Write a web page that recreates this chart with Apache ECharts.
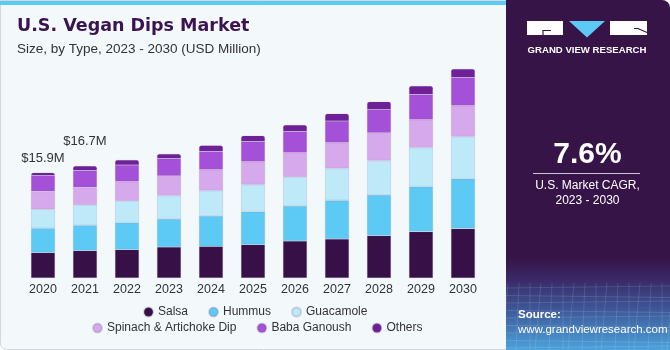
<!DOCTYPE html>
<html>
<head>
<meta charset="utf-8">
<title>U.S. Vegan Dips Market</title>
<script src="https://cdn.jsdelivr.net/npm/echarts@6/dist/echarts.min.js"></script>
<style>
  html, body { margin: 0; padding: 0; background: #fff; }
  #chart { width: 670px; height: 350px; }
</style>
</head>
<body>
<div id="chart"></div>
<script>
// data (USD Million)
const years = ["2020", "2021", "2022", "2023", "2024", "2025", "2026", "2027", "2028", "2029", "2030"];
const salsa = [3.80, 4.10, 4.25, 4.65, 4.74, 5.00, 5.55, 5.85, 6.35, 6.95, 7.40];
const hummus = [3.65, 3.80, 4.05, 4.20, 4.56, 4.95, 5.25, 5.79, 6.11, 6.75, 7.50];
const guacamole = [2.85, 3.06, 3.26, 3.50, 3.80, 4.05, 4.35, 4.80, 5.15, 5.85, 6.30];
const spinach = [2.70, 2.64, 2.90, 2.96, 3.15, 3.45, 3.65, 3.86, 4.16, 4.20, 4.65];
const babaGanoush = [2.36, 2.50, 2.50, 2.60, 2.75, 3.00, 3.15, 3.26, 3.50, 3.80, 4.20];
const others = [0.45, 0.70, 0.75, 0.70, 0.90, 0.90, 1.00, 1.10, 1.16, 1.26, 1.31];
const totalLabels = ["$15.9M", "$16.7M"]; // shown above 2020 and 2021

const FONT = "Liberation Sans, Arial, sans-serif";

const seriesDefs = [
  { name: "Salsa", data: salsa, color: "#371047" },
  { name: "Hummus", data: hummus, color: "#5ccaf5" },
  { name: "Guacamole", data: guacamole, color: "#bde9f9" },
  { name: "Spinach & Artichoke Dip", data: spinach, color: "#d5a9ec" },
  { name: "Baba Ganoush", data: babaGanoush, color: "#a550d8" },
  { name: "Others", data: others, color: "#6e2099" },
];

// label distances above the first two bars
const labelGap = [8, 18];

const series = seriesDefs.map((s, idx) => {
  const isTop = idx === seriesDefs.length - 1;
  return {
    name: s.name,
    type: "bar",
    stack: "total",
    barWidth: 24,
    itemStyle: {
      color: s.color,
      borderColor: "rgba(120,100,140,0.25)",
      borderWidth: 0.6,
      borderRadius: isTop ? [2, 2, 0, 0] : 0,
    },
    data: s.data.map((v, i) => {
      if (isTop && i < totalLabels.length) {
        return {
          value: v,
          label: {
            show: true,
            position: "top",
            distance: labelGap[i],
            formatter: totalLabels[i],
            color: "#333",
            fontSize: 13,
            fontFamily: FONT,
          },
        };
      }
      return v;
    }),
  };
});

// bottom texture lines for the side panel
const texture = [];
for (let k = 0; k < 9; k++) {
  const y = 288 + k * 7.5;
  texture.push({
    type: "line",
    shape: { x1: 506, y1: y, x2: 670, y2: y + (k % 2 ? 2 : -2) },
    style: { stroke: "rgba(255,255,255,0.12)", lineWidth: 1 },
  });
}
for (let k = 0; k < 16; k++) {
  const x = 508 + k * 11;
  texture.push({
    type: "line",
    shape: { x1: x, y1: 283, x2: x - 6 + (k % 3) * 3, y2: 350 },
    style: { stroke: "rgba(255,255,255,0.12)", lineWidth: 1 },
  });
}

const options = {
  backgroundColor: "#ffffff",
  animation: false,
  textStyle: { fontFamily: FONT },
  grid: { left: 22, top: 58, width: 462, height: 220 },
  xAxis: {
    type: "category",
    data: years,
    axisLine: { show: false },
    axisTick: { show: false },
    axisLabel: { color: "#333", fontSize: 12.5, margin: 5, fontFamily: FONT },
  },
  yAxis: {
    type: "value",
    min: 0,
    max: 33,
    show: false,
    splitLine: { show: false },
  },
  legend: [
    {
      data: ["Salsa", "Hummus", "Guacamole"],
      left: 143,
      top: 306,
      padding: 0,
      icon: "circle",
      itemWidth: 9,
      itemHeight: 9,
      itemGap: 20,
      textStyle: { color: "#333", fontSize: 12, fontFamily: FONT },
    },
    {
      data: ["Spinach & Artichoke Dip", "Baba Ganoush", "Others"],
      left: 92,
      top: 322,
      padding: 0,
      icon: "circle",
      itemWidth: 9,
      itemHeight: 9,
      itemGap: 20,
      textStyle: { color: "#333", fontSize: 12, fontFamily: FONT },
    },
  ],
  graphic: [
    // chart background with frame
    {
      type: "rect",
      z: -10,
      shape: { x: 0.5, y: 0.5, width: 520, height: 349, r: [0, 0, 0, 6] },
      style: { fill: "#f3f8fb", stroke: "#d4d8dc", lineWidth: 1 },
    },
    {
      type: "rect",
      z: -9,
      shape: { x: 0, y: 1, width: 508, height: 4 },
      style: { fill: "#5ccaf5" },
    },
    // side panel
    {
      type: "rect",
      z: -8,
      shape: { x: 506, y: 0, width: 164, height: 350, r: [0, 8, 0, 0] },
      style: {
        fill: new echarts.graphic.LinearGradient(0, 0, 0, 1, [
          { offset: 0, color: "#371448" },
          { offset: 0.74, color: "#371448" },
          { offset: 0.8, color: "#3a2a68" },
          { offset: 0.88, color: "#3d5596" },
          { offset: 1, color: "#4ba2dc" },
        ]),
      },
    },
    ...texture.map((t) => Object.assign({ z: -7 }, t)),
    // logo
    { type: "rect", shape: { x: 527, y: 21, width: 36, height: 14 }, style: { fill: "#ffffff" } },
    { type: "polyline", shape: { points: [[551, 30.5], [543, 30.5], [543, 35]] }, style: { stroke: "#371448", lineWidth: 1.2, fill: null } },
    { type: "polygon", shape: { points: [[569, 21], [605, 21], [587, 37.5]] }, style: { fill: "#5ccaf5" } },
    { type: "rect", shape: { x: 610, y: 21, width: 37, height: 14 }, style: { fill: "#ffffff" } },
    { type: "polyline", shape: { points: [[634, 28.5], [638, 28.5], [647, 32.5]] }, style: { stroke: "#371448", lineWidth: 1.2, fill: null } },
    {
      type: "text",
      style: {
        text: "GRAND VIEW RESEARCH",
        x: 587, y: 50,
        align: "center", verticalAlign: "middle",
        fill: "#ffffff", font: "bold 9.6px " + FONT,
      },
    },
    {
      type: "text",
      style: {
        text: "7.6%",
        x: 587.5, y: 155,
        align: "center", verticalAlign: "middle",
        fill: "#ffffff", font: "bold 30px " + FONT,
      },
    },
    { type: "line", shape: { x1: 533, y1: 173.5, x2: 640, y2: 173.5 }, style: { stroke: "rgba(255,255,255,0.75)", lineWidth: 1 } },
    {
      type: "text",
      style: {
        text: "U.S. Market CAGR,\n2023 - 2030",
        x: 587.5, y: 193,
        align: "center", verticalAlign: "middle",
        lineHeight: 15,
        fill: "#ffffff", font: "12px " + FONT,
      },
    },
    {
      type: "text",
      style: {
        text: "Source:",
        x: 518, y: 315,
        verticalAlign: "middle",
        fill: "#ffffff", font: "bold 11.5px " + FONT,
      },
    },
    {
      type: "text",
      style: {
        text: "www.grandviewresearch.com",
        x: 518, y: 329.5,
        verticalAlign: "middle",
        fill: "#ffffff", font: "11.5px " + FONT,
      },
    },
    // title
    {
      type: "text",
      style: {
        text: "U.S. Vegan Dips Market",
        x: 17, y: 35,
        verticalAlign: "bottom",
        fill: "#3a1451", font: "bold 17.5px DejaVu Sans, sans-serif",
      },
    },
    {
      type: "text",
      style: {
        text: "Size, by Type, 2023 - 2030 (USD Million)",
        x: 17, y: 49,
        verticalAlign: "middle",
        fill: "#333", font: "13.5px " + FONT,
      },
    },
  ],
  series: series,
};

const chart = echarts.init(document.getElementById("chart"), null, { renderer: "canvas" });
chart.setOption(options);

window.addEventListener("resize", () => {
  chart.resize();
});
</script>
</body>
</html>
